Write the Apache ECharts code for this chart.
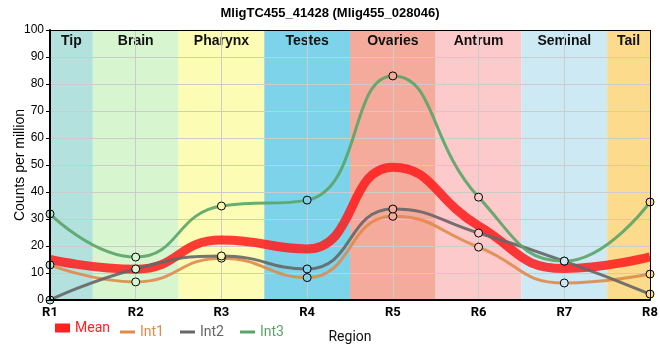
<!DOCTYPE html>
<html><head><meta charset="utf-8">
<script src="https://cdn.jsdelivr.net/npm/echarts@6/dist/echarts.min.js"></script>
<style>html,body{margin:0;padding:0;background:#fff}#c{width:660px;height:360px}</style>
</head><body><div id="c"></div>
<script>
var positions = [1,2,3,4,5,6,7,8];
var tickLabels = ['R1','R2','R3','R4','R5','R6','R7','R8'];
var yTicks = [10,20,30,40,50,60,70,80,90];
var meanVals = [15.0, 11.4, 22.2, 18.9, 49.2, 27.5, 11.7, 16.0];
var int1Vals = [13.0, 6.7, 15.5, 8.3, 31.0, 19.6, 6.3, 9.6];
var int2Vals = [0.0, 11.5, 16.3, 11.5, 33.7, 24.8, 14.4, 2.2];
var int3Vals = [31.9, 15.9, 34.8, 37.0, 83.0, 38.1, 14.4, 36.3];
var regionNames = ['Tip','Brain','Pharynx','Testes','Ovaries','Antrum','Seminal','Tail'];
var regionStart = [1, 1.5, 2.5, 3.5, 4.5, 5.5, 6.5, 7.5];
var regionEnd = [1.5, 2.5, 3.5, 4.5, 5.5, 6.5, 7.5, 8];
var regionColors = ['#b3e2de','#d7f5cf','#fdfcb5','#7dd4ea','#f4ab9c','#fccacb','#cdeaf4','#fddb8c'];

function pts(v){ return positions.map(function(x,i){ return [x, v[i]]; }); }
function ptsFilled(v){
  return positions.map(function(x,i){
    return {value:[x, v[i]], itemStyle:{color: regionColors[i], borderColor:'#000', borderWidth:1, opacity:1}};
  });
}

var bands = regionNames.map(function(n,i){
  return [{name:n, xAxis: regionStart[i], itemStyle:{color: regionColors[i]}}, {xAxis: regionEnd[i]}];
});
var gridLines = [];
yTicks.forEach(function(y){ gridLines.push([{coord:[1,y]},{coord:[8,y]}]); });
positions.slice(1,-1).forEach(function(x){ gridLines.push([{coord:[x,0]},{coord:[x,100]}]); });
var frameLines = [[{coord:[1,100]},{coord:[8,100]}],[{coord:[8,0]},{coord:[8,100]}]];

var chart = echarts.init(document.getElementById('c'));
function legItem(name, color){
  return {name:name, icon:'rect', itemStyle:{color:color, borderWidth:0, borderColor:color}, lineStyle:{width:0}, textStyle:{color:color}};
}
chart.setOption({
  animation:false,
  title:{text:'MligTC455_41428 (Mlig455_028046)', left:'center', top:2,
    textStyle:{fontFamily:'Liberation Sans, Arial', fontSize:13, fontWeight:'bold', color:'#000'}},
  grid:{left:50, right:10, top:30, bottom:60, containLabel:false, outerBoundsMode:'none'},
  legend:[
    {data:[legItem('Mean','#ff2020')],
     left:55, top:321, itemWidth:15, itemHeight:9, itemGap:10, padding:0,
     textStyle:{fontFamily:'Roboto', fontSize:14}},
    {data:[legItem('Int1','#e08a4c'), legItem('Int2','#666666'), legItem('Int3','#5aa468')],
     left:120, top:325, itemWidth:15, itemHeight:3, itemGap:16, padding:0,
     textStyle:{fontFamily:'Roboto', fontSize:14}}
  ],
  xAxis:{type:'value', min:1, max:8, interval:1, name:'Region', nameLocation:'middle', nameGap:30,
    nameTextStyle:{fontFamily:'Roboto', fontSize:14, color:'#111'},
    axisLine:{lineStyle:{color:'#000', width:2}}, axisTick:{show:false},
    axisLabel:{formatter:function(v){return tickLabels[v-1];}, fontFamily:'Roboto', fontWeight:'bold', fontSize:13, color:'#000', margin:6},
    splitLine:{show:false}, z:5},
  yAxis:{type:'value', min:0, max:100, interval:10, name:'Counts per million', nameLocation:'middle', nameGap:23, nameMoveOverlap:false,
    nameTextStyle:{fontFamily:'Liberation Sans, Arial', fontSize:14, color:'#000'},
    axisLine:{show:true, lineStyle:{color:'#000', width:2}}, axisTick:{show:true, length:4, lineStyle:{color:'#000'}},
    axisLabel:{fontFamily:'Liberation Sans, Arial', fontSize:12, color:'#000', margin:6},
    splitLine:{show:false}, z:5},
  series:[
    {type:'line', name:'bands', data:[], z:0, silent:true,
     markArea:{silent:true, z:0, label:{show:true, position:'insideTop', distance:4, fontFamily:'Liberation Sans, Arial', fontWeight:'bold', fontSize:14, color:'#111'},
       data:bands}},
    {type:'line', name:'gridlines', data:[], z:1, silent:true,
     markLine:{silent:true, z:1, symbol:'none', label:{show:false}, lineStyle:{color:'#cccccc', width:1, type:'solid'},
       data:gridLines}},
    {type:'line', name:'Mean', data:pts(meanVals), smooth:0.5, showSymbol:false, symbol:'none',
     lineStyle:{color:'#ff1a1a', width:9, opacity:0.85}, itemStyle:{color:'#ff2020'}, z:2},
    {type:'line', name:'Int1', data:ptsFilled(int1Vals), smooth:0.5, symbol:'circle', symbolSize:8,
     lineStyle:{color:'#e08a4c', width:3, opacity:0.9}, itemStyle:{color:'#e08a4c'}, z:3},
    {type:'line', name:'Int2', data:ptsFilled(int2Vals), smooth:0.5, symbol:'circle', symbolSize:8,
     lineStyle:{color:'#666666', width:3, opacity:0.9}, itemStyle:{color:'#666666'}, z:3},
    {type:'line', name:'Int3', data:ptsFilled(int3Vals), smooth:0.5, symbol:'circle', symbolSize:8,
     lineStyle:{color:'#5aa468', width:3, opacity:0.9}, itemStyle:{color:'#5aa468'}, z:3},
    {type:'line', name:'frame', data:[], silent:true, z:6,
     markLine:{silent:true, z:6, symbol:'none', label:{show:false}, lineStyle:{color:'#000', width:1, type:'solid'},
       data:frameLines}}
  ]
});
</script></body></html>
